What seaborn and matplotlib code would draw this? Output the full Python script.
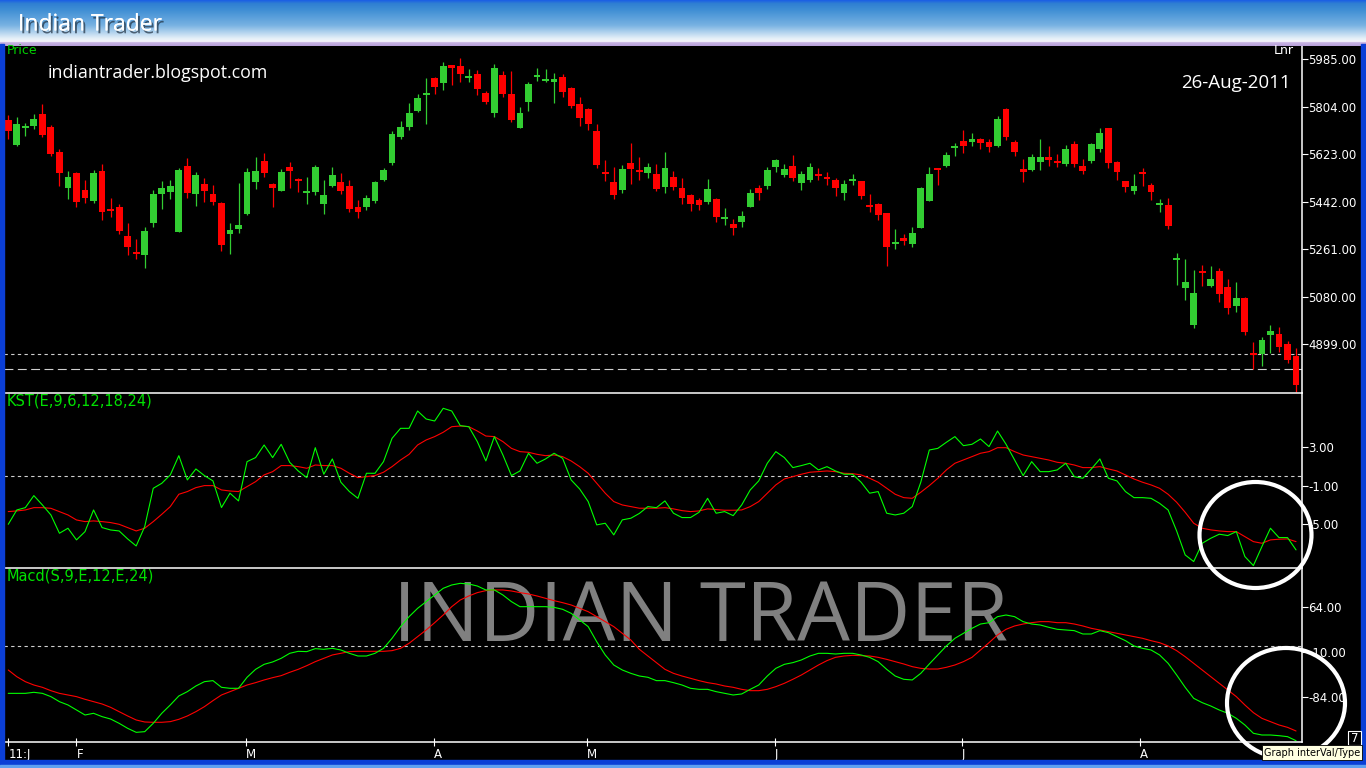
import numpy as np
import pandas as pd
import matplotlib
matplotlib.use("Agg")
import matplotlib.pyplot as plt
import matplotlib.patheffects as pe
from matplotlib import font_manager
from matplotlib.patches import Rectangle, Ellipse
from matplotlib.colors import LinearSegmentedColormap
import seaborn as sns

# daily candles
opens = [5753, 5657, 5723, 5730, 5775, 5726, 5631, 5494, 5551, 5486,
         5444, 5558, 5412, 5421, 5311, 5248, 5238, 5360, 5471, 5478,
         5326, 5577, 5471, 5509, 5471, 5436, 5318, 5337, 5394, 5516,
         5596, 5509, 5482, 5574, 5528, 5476, 5478, 5433, 5501, 5516,
         5501, 5421, 5421, 5444, 5524, 5589, 5688, 5726, 5787, 5849,
         5913, 5894, 5962, 5958, 5914, 5928, 5855, 5779, 5924, 5852,
         5722, 5821, 5919, 5904, 5897, 5916, 5875, 5814, 5795, 5711,
         5553, 5516, 5486, 5589, 5560, 5551, 5547, 5497, 5535, 5494,
         5467, 5448, 5440, 5452, 5377, 5356, 5364, 5421, 5494, 5501,
         5574, 5543, 5577, 5513, 5524, 5545, 5534, 5524, 5474, 5522,
         5520, 5427, 5433, 5398, 5282, 5303, 5280, 5341, 5444, 5568,
         5577, 5646, 5673, 5669, 5680, 5669, 5654, 5795, 5669, 5566,
         5562, 5593, 5612, 5595, 5585, 5661, 5577, 5596, 5642, 5722,
         5593, 5520, 5482, 5553, 5505, 5431, 5429, 5221, 5113, 4972,
         5175, 5120, 5177, 5116, 5044, 5074, 4863, 4861, 4933, 4937,
         4899, 4853]
highs = [5772, 5764, 5740, 5775, 5814, 5734, 5642, 5558, 5554, 5524,
         5562, 5585, 5455, 5433, 5360, 5299, 5345, 5486, 5520, 5524,
         5570, 5608, 5554, 5532, 5505, 5440, 5360, 5513, 5570, 5612,
         5627, 5513, 5566, 5593, 5532, 5535, 5581, 5524, 5574, 5551,
         5524, 5448, 5467, 5520, 5570, 5711, 5749, 5817, 5852, 5913,
         5915, 5974, 5964, 5989, 5947, 5943, 5863, 5966, 5939, 5939,
         5802, 5897, 5951, 5947, 5932, 5928, 5878, 5840, 5798, 5737,
         5600, 5574, 5581, 5665, 5612, 5589, 5585, 5631, 5558, 5532,
         5471, 5455, 5528, 5455, 5417, 5375, 5406, 5490, 5505, 5574,
         5604, 5585, 5619, 5558, 5589, 5570, 5555, 5532, 5524, 5547,
         5522, 5471, 5435, 5400, 5337, 5318, 5345, 5497, 5574, 5570,
         5631, 5665, 5714, 5703, 5684, 5680, 5768, 5797, 5676, 5604,
         5623, 5680, 5654, 5623, 5657, 5673, 5604, 5665, 5722, 5724,
         5597, 5522, 5547, 5570, 5513, 5452, 5455, 5246, 5223, 5181,
         5200, 5196, 5189, 5147, 5135, 5078, 4907, 4926, 4972, 4964,
         4911, 4884]
lows = [5680, 5654, 5693, 5718, 5688, 5615, 5501, 5452, 5421, 5436,
        5436, 5372, 5383, 5318, 5238, 5223, 5189, 5345, 5413, 5452,
        5326, 5455, 5425, 5440, 5429, 5253, 5242, 5322, 5391, 5490,
        5535, 5421, 5482, 5494, 5478, 5433, 5467, 5394, 5497, 5471,
        5402, 5379, 5410, 5436, 5520, 5581, 5680, 5714, 5783, 5737,
        5852, 5867, 5886, 5897, 5897, 5848, 5814, 5764, 5840, 5745,
        5722, 5787, 5901, 5897, 5817, 5840, 5798, 5730, 5714, 5570,
        5520, 5452, 5474, 5509, 5524, 5532, 5482, 5474, 5486, 5433,
        5406, 5410, 5433, 5364, 5353, 5314, 5345, 5421, 5448, 5490,
        5555, 5535, 5520, 5486, 5516, 5524, 5505, 5463, 5448, 5505,
        5452, 5402, 5372, 5196, 5261, 5276, 5269, 5341, 5444, 5505,
        5574, 5615, 5627, 5654, 5642, 5631, 5650, 5676, 5615, 5516,
        5558, 5562, 5577, 5574, 5577, 5574, 5547, 5589, 5631, 5570,
        5524, 5478, 5471, 5501, 5448, 5402, 5337, 5124, 5067, 4960,
        5120, 5116, 5059, 5013, 5021, 4933, 4804, 4815, 4865, 4869,
        4827, 4716]
closes = [5711, 5737, 5727, 5756, 5695, 5623, 5551, 5535, 5440, 5455,
          5551, 5402, 5408, 5330, 5269, 5244, 5330, 5471, 5494, 5501,
          5562, 5474, 5543, 5482, 5440, 5276, 5333, 5353, 5554, 5558,
          5551, 5494, 5554, 5558, 5520, 5480, 5574, 5467, 5543, 5482,
          5413, 5402, 5455, 5516, 5562, 5699, 5726, 5779, 5836, 5853,
          5878, 5958, 5951, 5928, 5918, 5871, 5821, 5951, 5852, 5753,
          5779, 5890, 5923, 5908, 5909, 5859, 5806, 5760, 5737, 5581,
          5549, 5467, 5566, 5566, 5556, 5574, 5490, 5570, 5497, 5455,
          5433, 5429, 5490, 5383, 5381, 5341, 5387, 5474, 5474, 5562,
          5600, 5566, 5532, 5547, 5574, 5541, 5530, 5494, 5509, 5526,
          5463, 5423, 5391, 5269, 5286, 5292, 5322, 5494, 5547, 5564,
          5619, 5654, 5654, 5680, 5665, 5650, 5756, 5688, 5631, 5554,
          5612, 5612, 5600, 5591, 5642, 5585, 5558, 5661, 5703, 5589,
          5555, 5497, 5501, 5549, 5478, 5435, 5349, 5225, 5135, 5093,
          5171, 5147, 5090, 5036, 5074, 4945, 4859, 4914, 4949, 4888,
          4838, 4743]

kst = [-5.03, -3.54, -3.30, -2.05, -3.02, -4.06, -5.96, -5.44, -6.65, -5.79,
       -3.54, -5.37, -5.62, -5.72, -6.55, -7.28, -5.27, -1.29, -0.77, 0.10,
       2.10, -0.42, 0.72, 0.03, -0.52, -3.29, -1.80, -2.60, 1.48, 1.90,
       3.21, 1.90, 3.28, 1.41, 0.51, -0.18, 2.93, 0.17, 1.76, -0.66,
       -1.63, -2.33, 0.27, 0.27, 1.48, 3.90, 4.94, 4.94, 6.74, 5.91,
       5.70, 7.02, 6.74, 5.22, 5.11, 3.56, 1.55, 4.08, 2.17, 0.03,
       0.51, 2.35, 1.31, 1.76, 2.35, 1.83, -0.42, -1.36, -2.67, -5.09,
       -4.92, -6.13, -4.57, -4.40, -3.90, -3.19, -3.30, -2.60, -3.88, -4.33,
       -4.33, -3.78, -2.33, -3.88, -3.71, -4.13, -3.02, -1.46, -0.52, 1.31,
       2.52, 1.90, 0.86, 1.07, 1.31, 0.62, 0.96, 0.51, 0.17, 0.17,
       -0.66, -1.80, -1.63, -3.88, -4.06, -3.88, -3.19, -0.66, 2.69, 2.86,
       3.49, 4.08, 3.14, 3.28, 3.83, 3.04, 4.66, 3.28, 1.65, 0.03,
       1.48, 0.44, 0.44, 0.62, 1.31, -0.08, -0.25, 0.72, 1.76, -0.25,
       -0.52, -1.63, -2.26, -2.26, -2.33, -2.85, -3.54, -5.72, -8.21, -8.90,
       -7.00, -6.48, -6.06, -6.20, -5.79, -8.38, -9.32, -7.34, -5.44, -6.41,
       -6.41, -7.69]
kst_signal = [-3.71, -3.64, -3.54, -3.30, -3.30, -3.37, -3.71, -4.06, -4.58, -4.75,
              -4.68, -4.75, -4.85, -5.03, -5.37, -5.72, -5.44, -4.75, -3.99, -3.19,
              -1.91, -1.63, -1.22, -1.01, -1.01, -1.46, -1.57, -1.63, -1.12, -0.60,
              0.10, 0.44, 1.07, 1.07, 0.96, 0.79, 1.13, 1.07, 1.07, 0.79,
              0.27, -0.18, -0.08, 0.03, 0.38, 0.96, 1.65, 2.24, 3.21, 3.73,
              4.08, 4.53, 5.11, 5.18, 5.11, 4.66, 4.14, 4.08, 3.56, 2.86,
              2.52, 2.45, 2.24, 2.10, 2.17, 2.00, 1.55, 0.96, 0.27, -0.77,
              -1.80, -2.67, -3.02, -3.19, -3.36, -3.36, -3.36, -3.30, -3.43, -3.61,
              -3.71, -3.64, -3.43, -3.50, -3.57, -3.57, -3.54, -3.19, -2.67, -1.80,
              -0.94, -0.32, -0.08, 0.17, 0.38, 0.44, 0.51, 0.44, 0.27, 0.23,
              0.10, -0.25, -0.66, -1.29, -1.91, -2.26, -2.33, -1.70, -1.01, -0.25,
              0.62, 1.31, 1.65, 2.00, 2.35, 2.52, 2.93, 2.93, 2.52, 2.17,
              2.00, 1.83, 1.65, 1.41, 1.31, 1.13, 0.86, 0.86, 0.96, 0.72,
              0.51, 0.10, -0.32, -0.66, -0.94, -1.29, -1.91, -2.74, -3.78, -4.92,
              -5.44, -5.61, -5.72, -5.79, -5.79, -6.31, -6.83, -7.00, -6.65, -6.58,
              -6.55, -6.83]

macd = [-78.0, -78.0, -78.0, -76.3, -78.0, -83.4, -91.7, -97.1, -105.4, -113.6,
        -110.8, -116.3, -120.2, -127.3, -135.5, -142.1, -141.0, -127.3, -110.8, -97.1,
        -82.3, -75.2, -65.9, -58.8, -57.1, -68.1, -69.7, -69.7, -51.6, -38.5,
        -30.3, -26.4, -20.4, -12.2, -8.9, -9.4, -4.5, -5.6, -4.0, -6.7,
        -12.2, -16.6, -16.6, -12.2, -4.0, 12.5, 31.7, 48.1, 61.8, 72.8,
        83.7, 94.7, 100.2, 102.9, 101.8, 98.5, 92.0, 92.0, 83.7, 72.8,
        64.5, 64.5, 64.5, 64.5, 63.4, 60.2, 53.6, 42.6, 31.7, 7.0,
        -14.9, -31.4, -39.6, -45.1, -49.5, -51.6, -57.1, -57.1, -60.4, -64.3,
        -69.7, -71.4, -71.4, -75.2, -78.0, -80.7, -79.0, -71.4, -64.3, -49.5,
        -36.9, -30.3, -27.5, -23.1, -16.6, -12.2, -12.2, -13.3, -12.2, -12.2,
        -14.9, -18.8, -25.9, -38.5, -49.5, -54.9, -56.0, -45.1, -29.7, -14.9,
        -0.1, 12.5, 20.7, 28.9, 36.0, 38.2, 48.1, 50.8, 48.1, 39.9,
        36.0, 34.4, 30.6, 27.3, 26.2, 25.1, 19.6, 19.6, 25.1, 21.8,
        15.2, 8.6, -0.1, -4.0, -6.7, -14.9, -28.6, -47.8, -68.1, -86.2,
        -93.3, -98.8, -105.4, -110.8, -119.1, -130.0, -143.7, -146.5, -146.5, -147.6,
        -149.2, -155.8]
macd_signal = [-39.6, -50.6, -58.8, -64.3, -68.1, -73.6, -78.0, -80.7, -83.4, -87.8,
               -91.7, -95.5, -101.0, -108.1, -115.2, -121.8, -125.1, -125.6, -125.6, -124.5,
               -120.7, -115.2, -108.1, -99.9, -90.0, -80.7, -75.2, -69.7, -64.3, -60.4,
               -56.0, -52.2, -48.9, -43.4, -38.5, -32.5, -25.9, -20.4, -14.9, -12.2,
               -9.4, -8.9, -8.9, -8.9, -8.9, -7.8, -4.0, 4.3, 15.2, 26.2,
               38.2, 50.8, 64.5, 75.5, 82.1, 87.6, 90.9, 92.0, 92.0, 90.3,
               87.6, 85.4, 82.1, 78.3, 74.4, 71.1, 67.3, 61.8, 56.3, 48.1,
               39.9, 31.7, 20.7, 9.7, -5.6, -16.6, -27.5, -38.5, -45.1, -49.5,
               -53.3, -57.1, -60.4, -62.6, -65.9, -68.1, -71.4, -73.6, -73.6, -71.4,
               -67.0, -61.5, -54.9, -47.8, -39.6, -31.4, -24.2, -18.8, -16.6, -15.5,
               -16.0, -16.6, -18.8, -22.1, -25.9, -29.7, -34.1, -36.9, -38.0, -38.0,
               -35.2, -31.4, -25.9, -18.8, -6.7, 5.3, 18.0, 27.3, 32.8, 36.0,
               38.2, 39.9, 39.9, 38.2, 38.2, 36.0, 32.8, 28.9, 26.2, 23.4,
               20.7, 18.0, 15.2, 12.5, 8.6, 5.3, -0.1, -7.8, -17.7, -28.6,
               -39.6, -50.6, -61.5, -72.5, -83.4, -97.1, -109.7, -119.1, -124.5, -130.0,
               -133.9, -139.9]

# axis ticks / labels
price_ticks = [4899, 5080, 5261, 5442, 5623, 5804, 5985]
price_levels = [4861, 4804]
kst_ticks = [3, -1, -5]
macd_ticks = [64, -10, -84]
month_pos = [0, 8, 27.9, 49.9, 67.9, 89.9, 111.8, 132.7]
month_labels = ["11:J", "F", "M", "A", "M", "J", "J", "A"]

sns.set_theme(style="dark", rc={"axes.facecolor": "black", "figure.facecolor": "black"})
plt.rcParams["font.family"] = ["DejaVu Sans"]

names = {f.name for f in font_manager.fontManager.ttflist}
if "Liberation Sans Narrow" in names:
    small_font, tick_size = "Liberation Sans Narrow", 10.5
else:
    small_font, tick_size = "DejaVu Sans", 8.5
nice_font = ["Open Sans", "Lato", "DejaVu Sans"]

W, H = 1366, 768
fig = plt.figure(figsize=(W / 100, H / 100), dpi=100)
fig.patch.set_facecolor("black")


def box(x0, y0, x1, y1):
    # pixel box (top-left origin) -> figure fraction rect
    return [x0 / W, 1 - y1 / H, (x1 - x0) / W, (y1 - y0) / H]


def fpt(x, y):
    return x / W, 1 - y / H


ax_p = fig.add_axes(box(4, 46, 1302, 393))
ax_k = fig.add_axes(box(4, 393, 1302, 568), sharex=ax_p)
ax_m = fig.add_axes(box(4, 568, 1302, 742), sharex=ax_p)

idx = np.arange(len(closes))
o = np.array(opens, dtype=float)
c = np.array(closes, dtype=float)
colors = np.where(c >= o, "#32cd32", "#ff0000")

# candles
ax_p.vlines(idx, lows, highs, colors=colors, lw=0.9, zorder=2)
body = np.maximum(np.abs(c - o), 7)
bottom = (o + c) / 2 - body / 2
ax_p.bar(idx, body, bottom=bottom, width=0.8, color=colors, linewidth=0, zorder=3)
ax_p.axhline(price_levels[0], color="#cfcfcf", lw=0.8, ls=(0, (3, 3)), zorder=1)
ax_p.axhline(price_levels[1], color="#cfcfcf", lw=0.8, ls=(0, (8, 4)), zorder=1)
ax_p.set_ylim(4712.5, 6034.5)

# KST
kst_df = pd.DataFrame({"day": idx, "kst": kst, "signal": kst_signal})
sns.lineplot(data=kst_df, x="day", y="signal", ax=ax_k, color="#ff0000", lw=0.8, legend=False)
sns.lineplot(data=kst_df, x="day", y="kst", ax=ax_k, color="#00ff00", lw=0.8, legend=False)
ax_k.axhline(0, color="#d0d0d0", lw=0.8, ls=(0, (3, 3)), zorder=1)
ax_k.set_ylim(-9.57, 8.61)

# MACD
macd_df = pd.DataFrame({"day": idx, "macd": macd, "signal": macd_signal})
sns.lineplot(data=macd_df, x="day", y="signal", ax=ax_m, color="#ff0000", lw=0.8, legend=False)
sns.lineplot(data=macd_df, x="day", y="macd", ax=ax_m, color="#00ff00", lw=0.8, legend=False)
ax_m.axhline(0, color="#d0d0d0", lw=0.8, ls=(0, (3, 3)), zorder=1)
ax_m.set_ylim(-158.0, 128.1)

for ax, ticks in ((ax_p, price_ticks), (ax_k, kst_ticks), (ax_m, macd_ticks)):
    ax.set_facecolor("none")
    ax.grid(False)
    ax.set_xlabel("")
    ax.set_ylabel("")
    for s in ("top", "left"):
        ax.spines[s].set_visible(False)
    for s in ("right", "bottom"):
        ax.spines[s].set_color("white")
        ax.spines[s].set_linewidth(1.1)
    ax.yaxis.tick_right()
    ax.set_yticks(ticks, labels=["{:.2f}".format(t) for t in ticks],
                  fontsize=tick_size, family=small_font)
    ax.tick_params(axis="y", colors="white", length=4, width=0.8, pad=0.5, direction="out",
                   left=False, right=True)

ax_p.set_xlim(-0.5, 151.7)
ax_m.set_xticks(month_pos, labels=month_labels, fontsize=tick_size, family=small_font)
for lbl in ax_m.get_xticklabels():
    lbl.set_ha("left")
ax_m.tick_params(axis="x", colors="white", length=6, width=0.8, pad=1, direction="inout",
                 bottom=True)
for ax in (ax_p, ax_k):
    ax.tick_params(axis="x", bottom=False, labelbottom=False)

# panel captions
fig.text(*fpt(7, 51), "Price", color="#00d000", fontsize=9, family=small_font, va="center")
fig.text(*fpt(1274, 50), "Lnr", color="white", fontsize=9, family=small_font, va="center")
fig.text(*fpt(7, 401), "KST(E,9,6,12,18,24)", color="#00e000", fontsize=10.5,
         family=small_font, va="center")
fig.text(*fpt(7, 576), "Macd(S,9,E,12,E,24)", color="#00e000", fontsize=10.5,
         family=small_font, va="center")
fig.text(*fpt(48, 77.5), "indiantrader.blogspot.com", color="white", fontsize=12.8,
         family=nice_font, va="baseline")
fig.text(*fpt(1181, 88), "26-Aug-2011", color="white", fontsize=13.5,
         family=nice_font, va="baseline")

# watermark behind the lines
ax_m.text(*fpt(701, 641), "INDIAN TRADER", transform=fig.transFigure, color="#808080",
          fontsize=60, family=nice_font, ha="center", va="baseline",
          zorder=0, clip_on=False)

# title bar
title_ax = fig.add_axes(box(0, 0, W, 46))
bar_cmap = LinearSegmentedColormap.from_list(
    "bar", [(0.0, "#1a5ee6"), (0.07, "#2f7fd2"), (0.2, "#3d8dd4"), (0.55, "#78b2e2"),
            (0.84, "#e6f0f8"), (0.91, "#f6f6fb"), (0.925, "#c9b5e3"), (1.0, "#b8a0da")])
title_ax.imshow(np.linspace(0, 1, 200).reshape(-1, 1), aspect="auto", cmap=bar_cmap,
                extent=(0, 1, 1, 0))
title_ax.axis("off")
fig.text(*fpt(18, 30.5), "Indian Trader", color="white", fontsize=16.5, family=nice_font,
         va="baseline",
         path_effects=[pe.withSimplePatchShadow(offset=(1.5, -2), shadow_rgbFace="#203040",
                                                alpha=0.7), pe.Normal()])

# window frame
frame = "#0b3fd6"
fig.add_artist(Rectangle((0, 0), 4 / W, 1 - 44 / H, transform=fig.transFigure,
                         color=frame, zorder=5))
fig.add_artist(Rectangle(((W - 5) / W, 0), 5 / W, 1 - 44 / H, transform=fig.transFigure,
                         color=frame, zorder=5))
fig.add_artist(Rectangle((0, 0), 1, 8 / H, transform=fig.transFigure, color=frame, zorder=5))
fig.add_artist(Rectangle((0, 0), 1, 3 / H, transform=fig.transFigure, color="#5fa0f0",
                         zorder=5))

# highlight circles
for cx, cy, rx, ry in ((1255.5, 535, 56, 53), (1286, 703, 59, 55)):
    fig.add_artist(Ellipse(fpt(cx, cy), 2 * rx / W, 2 * ry / H, transform=fig.transFigure,
                           fill=False, edgecolor="white", lw=3, zorder=6))

# small box and tooltip at bottom right
fig.add_artist(Rectangle(fpt(1348, 745), 13 / W, 14 / H, transform=fig.transFigure,
                         facecolor="black", edgecolor="white", lw=0.8, zorder=7))
fig.text(*fpt(1354.5, 738), "7", color="white", fontsize=8.5, family=small_font,
         ha="center", va="center", zorder=8)
fig.add_artist(Rectangle(fpt(1262, 760), 100 / W, 15 / H, transform=fig.transFigure,
                         facecolor="#ffffe1", edgecolor="black", lw=0.6, zorder=7))
fig.text(*fpt(1312, 752.5), "Graph interVal/Type", color="black", fontsize=7,
         family=small_font, ha="center", va="center", zorder=8)

fig.savefig("out.png", dpi=100, facecolor="black")
